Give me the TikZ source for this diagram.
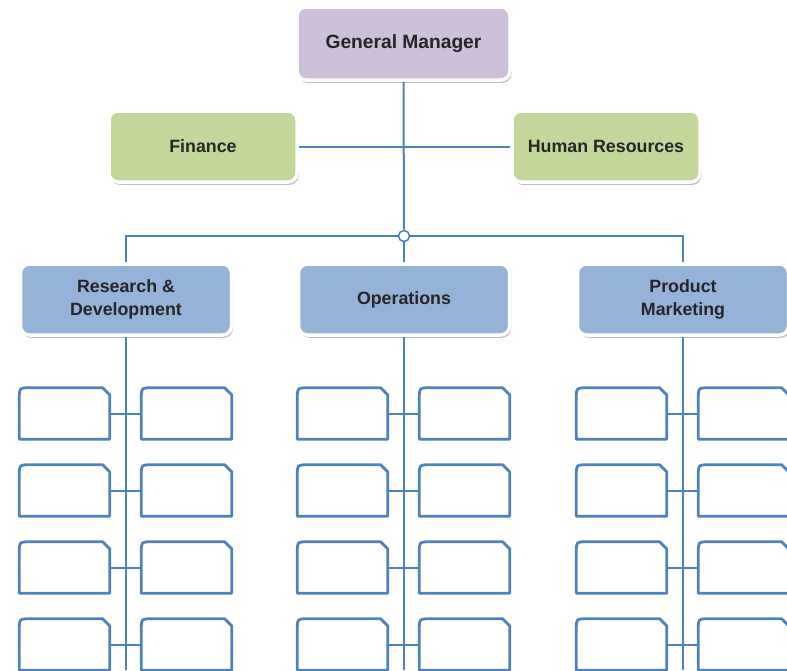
\documentclass[tikz,border=0pt]{standalone}
\usepackage{fontspec}
\setmainfont{Liberation Sans}
\usetikzlibrary{shadows}
\definecolor{linkblue}{HTML}{4F81BD}
\definecolor{headfill}{HTML}{CCC0DA}
\definecolor{stafffill}{HTML}{C4D79B}
\definecolor{deptfill}{HTML}{95B3D7}
\tikzset{
  unit/.style={rounded corners=9pt, draw=white, line width=3.5pt, inner sep=0pt,
    align=center, text=black!85, font=\bfseries\fontsize{17.8}{22.5}\selectfont,
    drop shadow={shadow xshift=1.5pt, shadow yshift=-2.8pt, opacity=.5, fill=black!50}},
  head/.style={unit, fill=headfill, minimum width=213pt, minimum height=73pt,
    font=\bfseries\fontsize{19.2}{24}\selectfont},
  staff/.style={unit, fill=stafffill, minimum width=188pt, minimum height=71pt},
  dept/.style={unit, fill=deptfill, minimum width=211pt, minimum height=71pt},
  link/.style={draw=linkblue, line width=2pt},
  slot/.style={minimum width=90pt, minimum height=51pt, inner sep=0pt,
    append after command={\pgfextra{\draw[linkblue, line width=2.8pt, line join=round]
      (\tikzlastnode.south west) -- ([yshift=-10pt]\tikzlastnode.north west)
      .. controls (\tikzlastnode.north west) .. ([xshift=10pt]\tikzlastnode.north west)
      -- ([xshift=-7pt]\tikzlastnode.north east) -- ([yshift=-7pt]\tikzlastnode.north east)
      -- (\tikzlastnode.south east) -- cycle;}}}
}
\begin{document}
\begin{tikzpicture}[x=1pt,y=-1pt]
  \useasboundingbox (0,0) rectangle (787,670);
  \clip (0,0) rectangle (787,670);
  % top
  \node[head] (gm) at(403.5,43.5){General Manager};
  \node[staff] (fin) at(203,146.5){Finance};
  \node[staff] (hr) at(606,146.5){Human Resources};
  % departments
  \node[dept] (rd) at(126,299.5){Research \&\\Development};
  \node[dept] (ops) at(404,299.5){Operations};
  \node[dept] (pm) at(683,299.5){Product\\Marketing};
  % junction
  \node[circle, draw=linkblue, fill=white, line width=1.6pt, minimum size=11pt, inner sep=0pt] (hub) at(404,236){};
  % connectors
  \draw [link](gm.south) -- (hub.north);
  \draw [link](fin.east) -- (hr.west);
  \draw [link](hub.west) -| (rd.north);
  \draw [link](hub.east) -| (pm.north);
  \draw [link](hub.south) -- (ops.north);
  % trunk ends
  \coordinate (rdend) at(126,670);
  \coordinate (opsend) at(404,670);
  \coordinate (pmend) at(683,670);
  \draw [link](rd.south) -- (rdend);
  \draw [link](ops.south) -- (opsend);
  \draw [link](pm.south) -- (pmend);
  % slots, research & development
  \node[slot] (rd1l) at(64.5,413.5){};
  \node[slot] (rd1r) at(186.5,413.5){};
  \node[slot] (rd2l) at(64.5,490.5){};
  \node[slot] (rd2r) at(186.5,490.5){};
  \node[slot] (rd3l) at(64.5,567.5){};
  \node[slot] (rd3r) at(186.5,567.5){};
  \node[slot] (rd4l) at(64.5,644.5){};
  \node[slot] (rd4r) at(186.5,644.5){};
  \draw [link](rd1l.east) -- (rd1r.west);
  \draw [link](rd2l.east) -- (rd2r.west);
  \draw [link](rd3l.east) -- (rd3r.west);
  \draw [link](rd4l.east) -- (rd4r.west);
  % slots, operations
  \node[slot] (ops1l) at(342.5,413.5){};
  \node[slot] (ops1r) at(464.5,413.5){};
  \node[slot] (ops2l) at(342.5,490.5){};
  \node[slot] (ops2r) at(464.5,490.5){};
  \node[slot] (ops3l) at(342.5,567.5){};
  \node[slot] (ops3r) at(464.5,567.5){};
  \node[slot] (ops4l) at(342.5,644.5){};
  \node[slot] (ops4r) at(464.5,644.5){};
  \draw [link](ops1l.east) -- (ops1r.west);
  \draw [link](ops2l.east) -- (ops2r.west);
  \draw [link](ops3l.east) -- (ops3r.west);
  \draw [link](ops4l.east) -- (ops4r.west);
  % slots, product marketing
  \node[slot] (pm1l) at(621.5,413.5){};
  \node[slot] (pm1r) at(743.5,413.5){};
  \node[slot] (pm2l) at(621.5,490.5){};
  \node[slot] (pm2r) at(743.5,490.5){};
  \node[slot] (pm3l) at(621.5,567.5){};
  \node[slot] (pm3r) at(743.5,567.5){};
  \node[slot] (pm4l) at(621.5,644.5){};
  \node[slot] (pm4r) at(743.5,644.5){};
  \draw [link](pm1l.east) -- (pm1r.west);
  \draw [link](pm2l.east) -- (pm2r.west);
  \draw [link](pm3l.east) -- (pm3r.west);
  \draw [link](pm4l.east) -- (pm4r.west);
\end{tikzpicture}
\end{document}
